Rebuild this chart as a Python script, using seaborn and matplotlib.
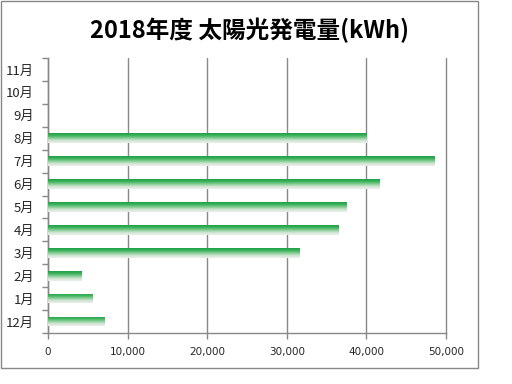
import matplotlib
matplotlib.use("Agg")
import matplotlib.pyplot as plt
import seaborn as sns
import numpy as np
import pandas as pd
from matplotlib.colors import LinearSegmentedColormap
from matplotlib.patches import Rectangle

months = ["12月", "1月", "2月", "3月", "4月", "5月", "6月", "7月", "8月", "9月", "10月", "11月"]
values = [7150, 5650, 4250, 31650, 36450, 37550, 41600, 48500, 40050, 0, 0, 0]
xticks = [0, 10000, 20000, 30000, 40000, 50000]
xticklabels = ["0", "10,000", "20,000", "30,000", "40,000", "50,000"]
title = "2018年度 太陽光発電量(kWh)"

# Excel-style: first category at bottom -> reverse for seaborn
df = pd.DataFrame({"month": months[::-1], "kwh": values[::-1]})

sns.set_theme(style="white")
plt.rcParams['font.family'] = ['Noto Sans CJK JP', 'DejaVu Sans']

fig = plt.figure(figsize=(5.12, 3.84), dpi=100)
fig.patch.set_facecolor("white")
ax = fig.add_axes([48/512, 1-333/384, (446-48)/512, (333-58)/384])

sns.barplot(data=df, x="kwh", y="month", order=df["month"].tolist(),
            color="#2aa24f", width=0.42, ax=ax, orient="h")

# gradient fill for bars
cmap = LinearSegmentedColormap.from_list(
    "g", [(0.0, "#1f9d48"), (0.25, "#3cb35b"), (0.5, "#86cd95"),
          (0.75, "#cfe5d3"), (1.0, "#eceeec")])
grad = np.linspace(0, 1, 100).reshape(-1, 1)
for p in ax.patches:
    w = p.get_width()
    if w <= 0:
        p.set_visible(False)
        continue
    x0, y0 = p.get_x(), p.get_y()
    h = p.get_height()
    im = ax.imshow(grad, cmap=cmap, aspect="auto", interpolation="bilinear",
                   extent=[x0, x0 + w, y0 + h, y0], zorder=3, origin="upper")
    im.set_clip_path(p)
    p.set_facecolor("none")
    p.set_edgecolor("none")

n = len(months)
ax.set_xlim(0, 50000)
ax.set_ylim(n - 0.5, -0.5)
ax.set_xticks(xticks)
ax.set_xticklabels(xticklabels, fontsize=7.5, family="DejaVu Sans")
ax.set_yticks(range(n))
ax.set_yticklabels(df["month"].tolist(), fontsize=9.5)
ax.set_yticks(np.arange(-0.5, n, 1), minor=True)
ax.tick_params(axis="y", which="major", length=0, pad=10)
ax.tick_params(axis="y", which="minor", length=4, color="#888888", width=1, direction="out", left=True)
ax.tick_params(axis="x", length=4, color="#888888", width=1, direction="out", bottom=True, pad=6)
ax.set_xlabel("")
ax.set_ylabel("")
ax.xaxis.grid(True, color="#888888", linewidth=1)
for gl in ax.get_xgridlines():
    gl.set_clip_on(False)
ax.yaxis.grid(False)
ax.set_axisbelow(True)
for s in ["top", "right"]:
    ax.spines[s].set_visible(False)
for s in ["left", "bottom"]:
    ax.spines[s].set_color("#888888")
    ax.spines[s].set_linewidth(1)

fig.text(250/512, 1-30/384, title, ha="center", va="center",
         fontsize=17, fontweight="bold", color="black")

fig.patches.append(Rectangle((1/512, 1-368/384), 477/512, 367/384,
                             transform=fig.transFigure, fill=False,
                             edgecolor="#888888", linewidth=1))

fig.savefig("out.png", dpi=100)
